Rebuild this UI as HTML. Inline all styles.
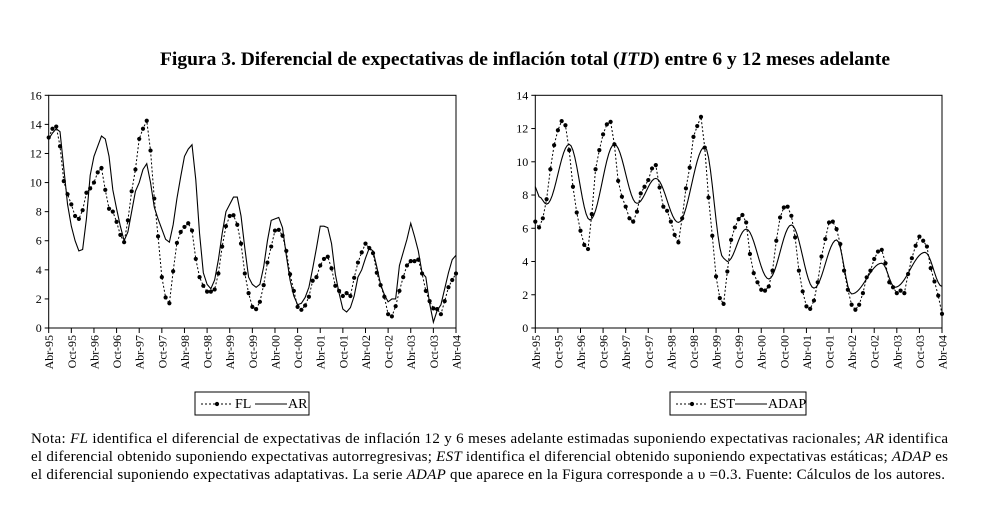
<!DOCTYPE html>
<html><head><meta charset="utf-8">
<style>
body{margin:0;background:#fff;width:1005px;height:505px;overflow:hidden;font-family:"Liberation Serif",serif;}
svg{position:absolute;left:0;top:0}
</style></head><body>
<svg id="s" width="1005" height="505" font-family="Liberation Serif, serif" font-size="12"></svg>
<script>
var FL=[13.1,13.7,13.85,12.5,10.1,9.2,8.5,7.7,7.5,8.1,9.3,9.6,10,10.7,11,9.5,8.2,8,7.3,6.4,5.9,7.4,9.4,10.9,13,13.7,14.25,12.2,8.9,6.3,3.5,2.1,1.7,3.9,5.85,6.6,6.95,7.2,6.7,4.75,3.5,2.9,2.5,2.5,2.65,3.75,5.6,7,7.7,7.75,7.1,5.8,3.75,2.4,1.45,1.3,1.8,2.95,4.5,5.6,6.7,6.75,6.35,5.3,3.7,2.55,1.45,1.25,1.55,2.15,3.25,3.5,4.3,4.75,4.9,4.1,2.9,2.55,2.2,2.4,2.2,3.45,4.5,5.2,5.8,5.5,5.15,3.8,2.95,2.15,0.95,0.8,1.5,2.55,3.5,4.3,4.6,4.6,4.7,3.75,2.55,1.85,1.35,1.3,0.95,1.85,2.8,3.3,3.75];
var AR=[13,13.4,13.7,13.5,11,8.5,7,6,5.3,5.4,7.5,10.5,11.8,12.5,13.2,13,11.8,9.5,8.2,7,6,6.6,8,9.4,10,10.9,11.3,10,8.3,7.5,6.8,6.1,5.9,7.1,8.9,10.4,11.8,12.3,12.6,10.2,6.5,3.8,3,2.7,3.3,4.7,6.5,8,8.5,9,9,7.7,5.5,3.5,3,2.8,3,4.2,6,7.4,7.5,7.6,6.9,5,3.3,2.2,1.6,1.7,2.1,2.8,4.1,5.5,7,7,6.9,5.8,3.7,2.4,1.3,1.1,1.4,2.2,3.5,4,4.8,5.5,5.3,4.2,3,2.3,1.8,2.0,2.0,4.3,5.2,6.1,7.2,6.3,5.3,3.8,3.5,1.7,0.4,1.2,1.6,2.7,3.8,4.7,5.0];
var EST=[6.4,6.05,6.6,7.75,9.55,11,11.9,12.45,12.2,10.7,8.5,6.95,5.85,5,4.75,6.85,9.55,10.7,11.65,12.25,12.4,11.05,8.85,7.9,7.3,6.6,6.4,7,8.1,8.5,8.9,9.6,9.8,8.45,7.3,7.05,6.4,5.6,5.15,6.6,8.4,9.65,11.5,12.15,12.7,10.85,7.85,5.55,3.1,1.8,1.45,3.4,5.3,6.05,6.55,6.8,6.35,4.45,3.3,2.75,2.3,2.25,2.5,3.45,5.25,6.65,7.25,7.3,6.75,5.45,3.45,2.2,1.3,1.15,1.65,2.75,4.3,5.35,6.35,6.4,5.95,5.05,3.45,2.3,1.4,1.1,1.4,2.1,3.05,3.45,4.15,4.6,4.7,3.9,2.75,2.45,2.1,2.25,2.1,3.25,4.2,4.95,5.5,5.25,4.9,3.6,2.8,1.95,0.85];
var AK=[[0,8.5],[1,7.9],[3,7.45],[9,11.05],[14.5,6.5],[21,11.05],[27,7.5],[32,9.0],[38,6.35],[45,10.9],[50,4.2],[51,4.0],[56,5.95],[62,2.95],[68,6.2],[74,2.4],[80,5.3],[84,2.05],[92,3.9],[95.5,2.45],[103.5,4.55],[108,2.5]];
var AD=[];for(var m=0;m<=108;m+=0.5){for(var i=0;i<AK.length-1;i++){if(m>=AK[i][0]&&m<=AK[i+1][0]){var t=(m-AK[i][0])/(AK[i+1][0]-AK[i][0]);t=(1-Math.cos(Math.PI*t))/2;AD.push([m,AK[i][1]+(AK[i+1][1]-AK[i][1])*t]);break;}}}
var s='';
s+='<text x="160" y="65" font-size="19" font-weight="bold" textLength="730" lengthAdjust="spacingAndGlyphs">Figura 3. Diferencial de expectativas de inflación total (<tspan font-style="italic">ITD</tspan>) entre 6 y 12 meses adelante</text>';
s+='<text x="31" y="443" font-size="15" textLength="917" lengthAdjust="spacing">Nota: <tspan font-style="italic">FL</tspan> identifica el diferencial de expectativas de inflación 12 y 6 meses adelante estimadas suponiendo expectativas racionales; <tspan font-style="italic">AR</tspan> identifica</text>';
s+='<text x="31" y="461" font-size="15" textLength="917" lengthAdjust="spacing">el diferencial obtenido suponiendo expectativas autorregresivas; <tspan font-style="italic">EST</tspan> identifica el diferencial obtenido suponiendo expectativas estáticas; <tspan font-style="italic">ADAP</tspan> es</text>';
s+='<text x="31" y="479" font-size="15" textLength="914" lengthAdjust="spacing">el diferencial suponiendo expectativas adaptativas. La serie <tspan font-style="italic">ADAP</tspan> que aparece en la Figura corresponde a \u03c5 =0.3. Fuente: Cálculos de los autores.</text>';
var L=['Abr-95','Oct-95','Abr-96','Oct-96','Abr-97','Oct-97','Abr-98','Oct-98','Abr-99','Oct-99','Abr-00','Oct-00','Abr-01','Oct-01','Abr-02','Oct-02','Abr-03','Oct-03','Abr-04'];
function chart(x0,x1,yT,yB,max,step,dots,line,lineXY){
 var X=function(m){return x0+(x1-x0)*m/108},Y=function(v){return yB-(yB-yT)*v/max};
 s+='<rect x="'+x0+'" y="'+yT+'" width="'+(x1-x0)+'" height="'+(yB-yT)+'" fill="none" stroke="#000" stroke-width="1"/>';
 for(var v=0;v<=max;v+=step){var y=Y(v);s+='<line x1="'+(x0-4)+'" x2="'+x0+'" y1="'+y+'" y2="'+y+'" stroke="#000"/><text x="'+(x0-7)+'" y="'+(y+4)+'" text-anchor="end">'+v+'</text>';}
 for(var k=0;k<19;k++){var x=X(k*6);s+='<line x1="'+x+'" x2="'+x+'" y1="'+yB+'" y2="'+(yB+5)+'" stroke="#000"/><text transform="translate('+(x+4.5)+','+(yB+7)+') rotate(-90)" text-anchor="end">'+L[k]+'</text>';}
 var p=line.map(function(d,i){return (lineXY?X(d[0]):X(i))+','+Y(lineXY?d[1]:d)}).join(' ');
 s+='<polyline points="'+p+'" fill="none" stroke="#000" stroke-width="1.1"/>';
 var q=dots.map(function(d,i){return X(i)+','+Y(d)}).join(' ');
 s+='<polyline points="'+q+'" fill="none" stroke="#000" stroke-width="1" stroke-dasharray="2,2"/>';
 dots.forEach(function(d,i){s+='<circle cx="'+X(i)+'" cy="'+Y(d)+'" r="2.1" fill="#000"/>'});
}
chart(48.7,456,95.3,328,16,2,FL,AR,false);
chart(535.3,942,95.3,328,14,2,EST,AD,true);
function leg(x,w,a,b,bx){s+='<rect x="'+x+'" y="392" width="'+w+'" height="23" fill="none" stroke="#000"/>';
 s+='<line x1="'+(x+6)+'" x2="'+(x+38)+'" y1="404" y2="404" stroke="#000" stroke-dasharray="2,2"/><circle cx="'+(x+22)+'" cy="404" r="2.1"/>';
 s+='<text x="'+(x+40)+'" y="408" font-size="14">'+a+'</text>';
 s+='<line x1="'+bx+'" x2="'+(bx+32)+'" y1="404" y2="404" stroke="#000"/><text x="'+(bx+33)+'" y="408" font-size="14">'+b+'</text>';}
leg(195,114,'FL','AR',255);
leg(670,136,'EST','ADAP',735);
document.getElementById('s').innerHTML=s;
</script>
</body></html>
